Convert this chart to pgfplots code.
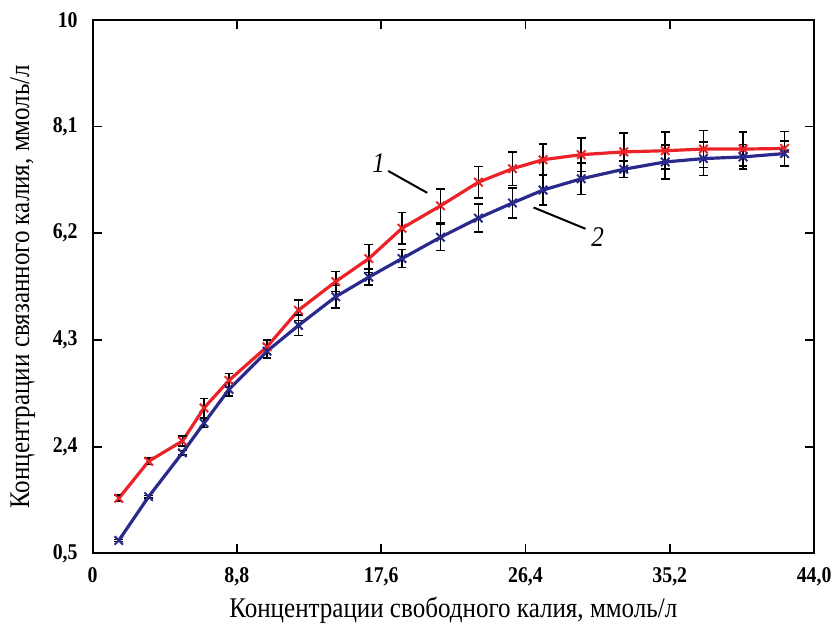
\documentclass[border=0pt]{standalone}
\usepackage{fontspec}
\setmainfont[FakeStretch=0.88]{Liberation Serif}
\usepackage{pgfplots}
\pgfplotsset{compat=1.18}

\definecolor{redline}{RGB}{235,35,40}
\definecolor{blueline}{RGB}{42,42,140}

\begin{document}
\begin{tikzpicture}
\begin{axis}[
  scale only axis, width=362.5pt, height=268pt,
  xmin=0, xmax=44, ymin=0.5, ymax=10,
  xtick={0,8.8,17.6,26.4,35.2,44},
  xticklabels={0,{8,8},{17,6},{26,4},{35,2},{44,0}},
  ytick={0.5,2.4,4.3,6.2,8.1,10},
  yticklabels={{0,5},{2,4},{4,3},{6,2},{8,1},10},
  tick align=inside, major tick length=4.5pt,
  tick style={black, line width=0.9pt},
  axis line style={line width=1pt},
  ticklabel style={font=\fontsize{11.3}{13}\selectfont\bfseries},
  yticklabel style={xshift=-4pt},
  xticklabel style={yshift=-3.5pt},
  xlabel={Концентрации свободного калия, ммоль/л},
  ylabel={Концентрации связанного калия, ммоль/л},
  label style={font=\fontsize{14.3}{16}\selectfont},
  xlabel style={yshift=1pt},
  ylabel style={yshift=2pt},
  every axis plot/.append style={
    line width=1.6pt, mark=x, mark size=3pt,
    error bars/y dir=both, error bars/y explicit,
    error bars/error bar style={black, line width=0.8pt},
    error bars/error mark options={black, mark size=2.2pt, line width=0.8pt, rotate=90},
  },
]
\addplot[redline, mark options={solid, line width=1pt}] table[x=x, y=y, y error=e] {
x y e
1.60 1.48 0.06
3.42 2.14 0.06
5.48 2.50 0.09
6.80 3.09 0.17
8.32 3.58 0.12
10.64 4.18 0.12
12.56 4.83 0.18
14.83 5.34 0.18
16.85 5.75 0.25
18.87 6.29 0.28
21.22 6.69 0.30
23.53 7.11 0.28
25.61 7.35 0.30
27.47 7.51 0.28
29.80 7.60 0.30
32.39 7.65 0.34
34.92 7.67 0.33
37.25 7.70 0.33
39.67 7.70 0.30
42.20 7.71 0.30
};
\addplot[blueline, mark options={solid, line width=1pt}] table[x=x, y=y, y error=e] {
x y e
1.60 0.73 0.02
3.42 1.51 0.02
5.48 2.29 0.04
6.80 2.82 0.08
8.32 3.42 0.12
10.64 4.10 0.12
12.56 4.56 0.18
14.83 5.07 0.20
16.85 5.42 0.14
18.87 5.75 0.16
21.22 6.13 0.24
23.53 6.47 0.25
25.61 6.74 0.27
27.47 6.97 0.27
29.80 7.17 0.28
32.39 7.34 0.15
34.92 7.47 0.30
37.25 7.53 0.30
39.67 7.56 0.22
42.20 7.62 0.22
};
\draw[black, line width=1pt] (axis cs:18.03,7.31) -- (axis cs:20.41,6.92);
\draw[black, line width=1pt] (axis cs:26.89,6.66) -- (axis cs:30.06,6.28);
\node[font=\fontsize{14.3}{16}\selectfont\itshape] at (axis cs:17.45,7.45) {1};
\node[font=\fontsize{14.3}{16}\selectfont\itshape] at (axis cs:30.8,6.13) {2};
\coordinate (sw) at (rel axis cs:0,0);
\coordinate (ne) at (rel axis cs:1,1);
\end{axis}
% page frame as in the reference: 0.5pt per reference pixel
\pgfresetboundingbox
\path[use as bounding box] ([xshift=-46.5pt,yshift=-35.5pt]sw) rectangle ([xshift=9pt,yshift=10pt]ne);
\end{tikzpicture}
\end{document}
